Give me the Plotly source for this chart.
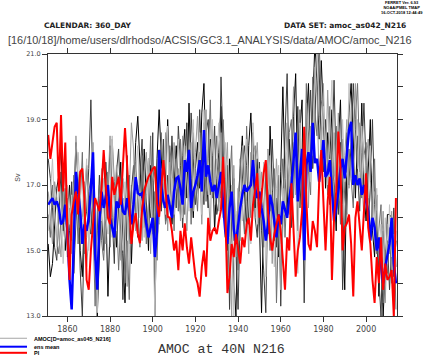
import plotly.graph_objects as go

years = list(range(1851, 2015))

ens_mean = [
    16.4, 16.5, 16.6, 16.4, 16.5, 16.3, 15.8, 15.9, 16.4, 15.6,
    14.1, 13.2, 15.5, 17.4, 16.8, 16.2, 15.2, 15.8, 15.6, 16.0,
    16.9, 18.0, 14.9, 13.8, 15.9, 16.8, 16.3, 16.6, 17.0, 16.0,
    15.7, 15.4, 16.5, 16.3, 16.7, 16.2, 16.1, 16.6, 16.2, 15.8,
    16.4, 17.24, 16.75, 16.7, 16.75, 16.2, 15.8, 15.4, 15.7, 16.0,
    14.8, 15.6, 18.07, 17.0, 16.5, 16.3, 16.7, 16.4, 16.0, 16.8,
    17.2, 17.25, 16.9, 16.4, 17.76, 17.4, 18.07, 16.3, 16.8, 17.0,
    17.3, 17.76, 16.8, 18.68, 17.25, 17.6, 17.1, 16.8, 17.0, 16.6,
    17.0, 17.4, 16.4, 15.6, 15.2, 16.3, 16.8, 15.65, 15.2, 15.8,
    16.3, 16.7, 17.0, 16.8, 16.9, 17.0, 17.76, 16.9, 16.6, 16.8,
    16.3, 15.9, 15.3, 15.8, 16.7, 16.4, 15.9, 15.4, 16.1, 15.8,
    16.5, 16.2, 16.0, 16.6, 17.0, 17.76, 18.6, 16.5, 17.2, 18.1,
    14.7, 17.6, 18.0, 17.4, 18.9, 17.67, 17.8, 17.1, 17.6, 18.37,
    17.25, 17.35, 17.76, 16.75, 15.9, 16.3, 16.8, 17.5, 17.8, 17.2,
    17.9, 18.68, 18.93, 17.0, 17.3, 17.0, 17.2, 16.7, 17.0, 16.5,
    16.2, 15.3, 16.0, 15.7, 15.0, 15.4, 14.6, 14.0, 14.5, 14.8,
    15.2, 16.0, 14.6, 14.0,
]

pi_ctrl = [
    18.53, 17.8, 18.3, 18.78, 18.9, 16.8, 19.14, 16.8, 18.3, 15.5,
    14.1, 16.1, 16.5, 16.8, 16.1, 17.4, 17.5, 16.6, 14.1, 13.8,
    15.0, 15.8, 16.6, 16.4, 16.2, 16.9, 18.07, 17.0, 16.0, 15.8,
    17.25, 16.7, 17.0, 17.25, 16.4, 17.7, 18.74, 17.6, 16.3, 15.2,
    15.8, 16.14, 15.52, 15.22, 16.24, 16.85, 17.05, 17.25, 17.36, 17.5,
    17.56, 16.44, 16.03, 16.85, 17.76, 16.85, 16.03, 16.0, 15.6, 15.0,
    15.3, 14.4, 15.6, 15.0, 15.83, 15.1, 14.6, 15.4, 14.8, 14.2,
    14.0, 13.59, 14.5, 15.0, 14.2, 16.0, 15.3, 15.6, 15.7, 15.5,
    15.9, 16.24, 17.86, 16.2, 13.7, 14.2, 15.2, 14.8, 15.5, 15.0,
    14.6, 15.4, 15.1, 15.8, 16.0, 15.3, 16.4, 16.85, 17.36, 16.0,
    16.7, 17.36, 17.76, 16.24, 15.4, 15.0, 15.5, 15.8, 16.1, 15.6,
    14.6, 13.8, 15.4, 15.0, 17.05, 15.5, 14.2, 15.0, 15.4, 16.2,
    18.78, 16.5, 15.2, 15.0, 15.9, 15.6, 15.1, 17.05, 18.07, 16.5,
    15.0, 16.5, 17.25, 14.1, 16.0, 16.8, 18.63, 17.56, 15.0, 15.7,
    15.83, 16.1, 15.2, 13.6, 16.0, 16.5, 15.8, 15.0, 16.2, 17.36,
    15.7, 15.2, 14.1, 13.4, 14.8, 14.0, 15.4, 13.8, 14.6, 14.1,
    14.2, 14.4, 13.0, 16.6,
]

member_a = [
    15.2, 14.2, 14.6, 15.8, 16.9, 17.3, 18.2, 16.1, 15.0, 16.2,
    17.0, 15.3, 16.4, 18.3, 17.1, 15.0, 14.2, 16.3, 17.6, 16.1,
    15.5, 17.8, 15.9, 13.0, 14.9, 16.8, 17.9, 16.5, 13.6, 15.8,
    17.2, 16.6, 15.1, 16.4, 17.7, 14.9, 13.4, 16.1, 17.3, 14.6,
    16.7, 18.3, 19.1, 17.4, 16.2, 18.1, 16.6, 15.0, 17.6, 16.9,
    15.2, 17.8, 19.3, 18.0, 16.4, 17.1, 19.0, 17.3, 15.8, 16.9,
    18.2, 17.0, 16.1, 17.9, 18.7, 16.6, 19.5, 17.2, 16.0, 17.5,
    18.3, 16.9, 19.2, 20.1, 17.6, 16.3, 18.4, 17.9, 15.6, 17.2,
    18.0, 19.4, 17.1, 16.0, 15.0, 17.8, 15.9, 14.1, 13.0, 16.4,
    17.5, 18.5, 16.8, 15.7, 18.2, 19.2, 17.4, 16.3, 17.8, 15.9,
    13.1, 16.2, 17.3, 15.5, 18.8, 17.0, 15.3, 16.6, 14.8, 17.4,
    20.0, 17.2, 16.1, 18.4, 17.3, 19.1, 20.4, 16.8, 18.7, 19.6,
    15.1, 18.9, 20.1, 17.6, 19.4, 21.3, 20.2, 18.4, 20.8, 19.2,
    16.9, 18.6, 17.8, 19.3, 17.1, 15.6, 18.2, 19.6, 16.4, 13.8,
    17.7, 19.2, 20.1, 18.0, 16.6, 18.5, 17.4, 19.5, 16.8, 15.9,
    17.3, 19.0, 15.6, 14.8, 16.7, 13.6, 15.2, 13.0, 14.4, 16.1,
    16.1, 16.0, 14.2, 15.3,
]

member_b = [
    17.8, 17.2, 16.3, 15.1, 14.7, 16.0, 17.4, 15.6, 16.9, 14.8,
    15.6, 17.1, 14.3, 15.9, 16.7, 14.4, 13.0, 15.8, 16.2, 17.5,
    19.6, 16.8, 14.7, 15.6, 17.3, 16.1, 15.0, 17.7, 16.6, 18.2,
    16.0, 14.6, 17.4, 18.1, 16.3, 13.5, 15.7, 17.9, 15.2, 16.8,
    17.6, 16.1, 15.4, 17.3, 18.4, 15.7, 16.9, 17.8, 16.0, 18.6,
    13.0, 16.4, 17.7, 16.2, 18.4, 15.9, 17.3, 16.6, 18.5, 17.0,
    16.3, 18.8, 17.6, 15.7, 17.2, 18.9, 16.5, 19.2, 17.8, 16.4,
    17.0, 19.3, 17.5, 16.4, 18.6, 19.0, 16.7, 17.4, 18.8, 16.1,
    16.5, 20.3, 18.1, 15.4, 17.6, 13.2, 16.3, 17.2, 15.0, 13.2,
    16.1, 17.0, 18.2, 17.6, 15.8, 17.4, 18.6, 16.0, 15.4, 17.7,
    15.6, 14.4, 13.1, 17.0, 16.2, 18.4, 16.8, 15.1, 17.3, 13.3,
    16.6, 18.3, 20.4, 16.9, 15.7, 18.0, 17.2, 19.4, 16.3, 17.8,
    13.4, 17.2, 18.6, 19.9, 17.5, 18.8, 21.3, 20.6, 18.1, 17.4,
    19.0, 17.2, 16.4, 18.0, 20.2, 17.5, 16.1, 18.3, 13.8, 15.7,
    18.6, 17.0, 18.3, 20.1, 18.7, 17.3, 16.2, 18.0, 19.5, 17.6,
    15.8, 16.9, 19.0, 16.4, 15.2, 14.3, 13.0, 15.6, 14.7, 15.3,
    13.8, 15.1, 16.3, 14.5,
]

member_c = [
    16.1, 15.4, 17.0, 16.3, 15.3, 14.9, 16.0, 17.2, 15.8, 16.6,
    14.6, 16.0, 17.3, 16.9, 15.2, 16.4, 18.0, 14.9, 15.4, 16.8,
    17.2, 15.9, 13.3, 16.2, 17.0, 15.3, 14.7, 16.1, 17.4, 15.1,
    18.4, 17.1, 16.2, 14.4, 15.9, 16.6, 14.0, 15.3, 13.5, 17.0,
    15.9, 17.7, 16.3, 15.1, 17.9, 16.8, 15.2, 16.4, 18.5, 15.5,
    16.8, 14.7, 16.9, 18.6, 17.1, 15.8, 16.2, 18.2, 17.4, 15.6,
    17.8, 16.2, 18.4, 17.0, 16.1, 17.7, 18.1, 15.8, 18.6, 17.1,
    16.2, 18.0, 17.3, 18.9, 16.5, 17.8, 19.6, 16.6, 17.3, 18.5,
    17.3, 16.6, 19.0, 17.4, 14.2, 16.9, 18.2, 15.3, 16.1, 14.4,
    17.8, 16.4, 15.5, 18.8, 17.1, 16.0, 17.9, 18.2, 16.5, 15.4,
    16.9, 15.1, 17.6, 16.3, 15.0, 16.8, 17.5, 13.4, 15.9, 16.7,
    17.8, 15.4, 17.0, 18.6, 19.0, 16.6, 18.4, 15.6, 19.3, 17.0,
    16.2, 20.1, 17.4, 16.7, 20.3, 19.2, 18.5, 21.3, 19.6, 18.8,
    18.1, 16.7, 19.4, 17.6, 16.2, 18.8, 17.3, 15.8, 18.4, 16.6,
    16.1, 18.1, 17.2, 16.3, 19.0, 20.1, 17.8, 16.6, 17.9, 18.3,
    17.0, 15.4, 16.6, 17.8, 14.9, 15.8, 16.4, 13.4, 15.0, 14.3,
    15.7, 14.0, 15.9, 13.2,
]

member_d = [
    16.8, 16.0, 15.2, 17.1, 16.6, 15.5, 14.8, 16.7, 17.5, 15.3,
    16.3, 14.9, 16.1, 18.5, 17.3, 15.7, 16.0, 17.1, 14.5, 15.4,
    16.3, 18.3, 16.5, 14.2, 15.6, 17.5, 16.4, 15.2, 16.9, 18.5,
    15.4, 16.3, 17.6, 16.9, 14.7, 17.2, 16.4, 13.9, 16.6, 18.9,
    18.1, 15.6, 17.0, 16.5, 15.3, 17.4, 18.0, 16.2, 14.9, 17.1,
    17.4, 16.0, 15.8, 17.5, 16.3, 18.6, 15.6, 17.7, 16.4, 18.3,
    16.9, 17.5, 15.9, 18.5, 16.8, 15.6, 17.4, 18.3, 16.2, 18.0,
    19.1, 17.4, 15.8, 17.9, 19.3, 16.9, 15.6, 18.7, 17.0, 17.8,
    16.2, 18.6, 16.0, 17.2, 18.3, 15.4, 13.0, 17.6, 14.8, 16.9,
    15.3, 18.2, 17.3, 16.5, 14.9, 18.0, 16.2, 17.5, 18.3, 16.6,
    17.4, 16.0, 15.4, 18.1, 17.2, 14.6, 16.1, 17.8, 16.4, 13.8,
    15.7, 17.6, 18.9, 16.1, 17.8, 20.0, 16.7, 17.5, 18.2, 16.4,
    17.6, 19.5, 16.3, 18.8, 17.9, 20.6, 19.8, 17.0, 18.7, 20.1,
    17.4, 19.9, 18.0, 16.9, 18.6, 17.0, 19.2, 17.7, 16.0, 17.9,
    19.0, 16.9, 17.6, 18.8, 20.1, 17.5, 18.9, 17.2, 16.0, 17.7,
    18.4, 17.1, 15.9, 16.8, 16.2, 15.1, 14.6, 16.2, 13.4, 15.8,
    14.9, 16.2, 13.0, 15.6,
]

member_e = [
    15.6, 16.9, 17.8, 16.2, 15.1, 17.4, 16.3, 14.6, 15.9, 17.0,
    15.8, 16.7, 15.0, 16.3, 18.0, 16.9, 15.4, 16.5, 17.8, 15.0,
    16.0, 17.1, 15.4, 13.1, 16.6, 15.9, 17.2, 16.0, 15.5, 16.8,
    18.5, 16.1, 15.6, 17.3, 16.0, 15.0, 17.1, 16.4, 14.8, 16.3,
    16.9, 17.4, 18.2, 16.0, 16.6, 15.4, 16.7, 17.8, 16.3, 15.8,
    13.0, 16.6, 18.1, 16.9, 17.3, 16.1, 18.8, 16.3, 17.2, 16.1,
    17.0, 18.4, 16.8, 16.0, 18.2, 17.3, 16.2, 17.7, 19.0, 16.9,
    17.6, 18.6, 16.1, 19.3, 17.8, 16.7, 17.5, 19.0, 16.4, 17.6,
    18.9, 17.2, 16.5, 18.3, 16.7, 14.8, 17.0, 13.0, 16.2, 15.6,
    16.8, 15.9, 17.7, 18.4, 16.6, 15.2, 18.9, 17.1, 15.8, 17.5,
    16.2, 17.7, 14.2, 16.6, 17.9, 16.3, 14.5, 16.9, 17.6, 15.2,
    16.9, 16.1, 18.0, 17.3, 16.4, 18.3, 17.6, 14.3, 18.9, 17.2,
    15.6, 17.8, 19.2, 17.1, 18.6, 19.9, 21.3, 19.1, 17.8, 19.4,
    18.2, 17.0, 18.7, 20.2, 17.3, 16.8, 18.0, 16.5, 19.0, 17.1,
    17.4, 20.1, 18.6, 17.1, 18.2, 19.0, 17.0, 18.8, 17.5, 16.7,
    16.6, 18.2, 17.3, 15.5, 16.9, 15.0, 15.8, 14.4, 16.0, 14.6,
    16.4, 14.8, 15.5, 14.1,
]

members = [member_a, member_b, member_c, member_d, member_e]
member_colors = ["#000000", "#3c3c3c", "#6e6e6e", "#9a9a9a", "#c0c0c0"]

y_ticks = [13, 15, 17, 19, 21]
y_tick_text = ["13.0", "15.0", "17.0", "19.0", "21.0"]
x_ticks = [1860, 1880, 1900, 1920, 1940, 1960, 1980, 2000]

W, H = 435, 356
L, R, T, B = 48, 38, 54, 40
PW, PH = W - L - R, H - T - B


def px(x):
    return (x - L) / PW


def py(y):
    return (H - B - y) / PH


fig = go.Figure()
for vals, col in zip(members, member_colors):
    fig.add_trace(go.Scatter(x=years, y=vals, mode="lines",
                             line=dict(color=col, width=1), showlegend=False))
fig.add_trace(go.Scatter(x=years, y=ens_mean, mode="lines",
                         line=dict(color="#0000ff", width=2.5), showlegend=False))
fig.add_trace(go.Scatter(x=years, y=pi_ctrl, mode="lines",
                         line=dict(color="#ff0000", width=2), showlegend=False))

axis_common = dict(showline=True, linecolor="#333333", linewidth=1, mirror="ticks",
                   ticks="outside", ticklen=5, tickcolor="#333333", showgrid=False,
                   zeroline=False)

fig.update_xaxes(range=[1850.9, 2014.5], tickvals=x_ticks,
                 tickfont=dict(family="DejaVu Sans", size=8, color="#444444"),
                 **axis_common)
fig.update_yaxes(range=[13, 21], tickvals=y_ticks, ticktext=y_tick_text,
                 tickfont=dict(family="DejaVu Sans", size=6.5, color="#444444"),
                 minor=dict(dtick=1, tick0=13, ticks="outside", ticklen=5,
                            tickcolor="#333333"),
                 **axis_common)

ann = []


def text(x, y, s, size, family="Liberation Sans", color="#222222", xanchor="center",
         angle=0, bold=False):
    if bold:
        s = "<b>" + s + "</b>"
    ann.append(dict(x=px(x), y=py(y), xref="paper", yref="paper", text=s,
                    showarrow=False, xanchor=xanchor, yanchor="middle",
                    textangle=angle,
                    font=dict(family=family, size=size, color=color)))


text(425, 7, "FERRET Ver. 6.93<br>NOAA/PMEL TMAP<br>16-OCT-2018 12:44:49", 4,
     xanchor="right", bold=True, color="#000")
text(88, 25, "CALENDAR: 360_DAY", 7.5, family="DejaVu Sans", bold=True)
text(344.5, 25, "DATA SET: amoc_as042_N216", 7.5, family="DejaVu Sans", bold=True)
text(6, 40, "[16/10/18]/home/users/dlrhodso/ACSIS/GC3.1_ANALYSIS/data/AMOC/amoc_N216",
     10.9, color="#444444", xanchor="left")
text(16.7, 177, "Sv", 7, angle=-90, color="#444444")
text(31.5, 338.5, "AMOC[D=amoc_as045_N216]", 5.5, xanchor="left", bold=True, color="#000")
text(31.5, 346.5, "ens mean", 5.5, xanchor="left", bold=True, color="#000")
text(31.5, 353, "PI", 5.5, xanchor="left", bold=True, color="#000")
text(221.7, 349.5, "AMOC at 40N N216", 13.2, family="Liberation Mono", color="#333333")

shapes = []
for yy, col, wd in [(338.3, "#b4b4b4", 1.2), (346.7, "#0000ff", 2), (352.8, "#ff0000", 2)]:
    shapes.append(dict(type="line", xref="paper", yref="paper", x0=px(0), x1=px(27),
                       y0=py(yy), y1=py(yy), line=dict(color=col, width=wd)))

fig.update_layout(width=W, height=H, margin=dict(l=L, r=R, t=T, b=B),
                  plot_bgcolor="white", paper_bgcolor="white",
                  annotations=ann, shapes=shapes, showlegend=False)

fig.write_html("out.html", config={"displayModeBar": False},
               post_script="document.body.style.margin='0';document.body.style.overflow='hidden';")
